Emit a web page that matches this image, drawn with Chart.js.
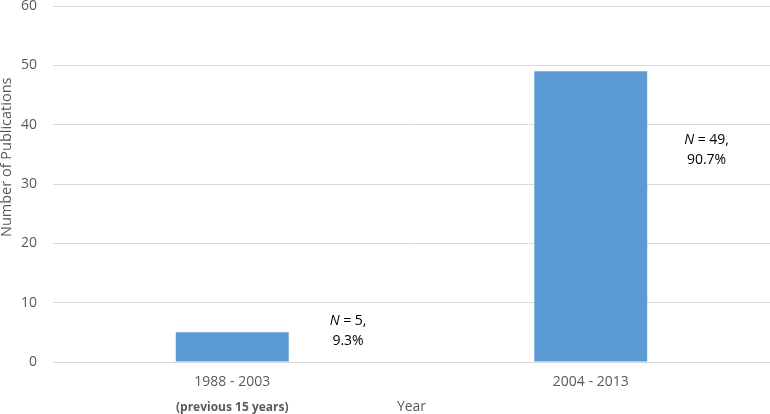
<!DOCTYPE html>
<html>
<head>
<meta charset="utf-8">
<script src="https://cdn.jsdelivr.net/npm/chart.js@4/dist/chart.umd.min.js"></script>
<style>
  html, body { margin: 0; padding: 0; background: #fff; }
  #wrap { width: 770px; height: 414px; }
</style>
</head>
<body>
<div id="wrap"><canvas id="chart"></canvas></div>
<script>
// data
var categories = ['1988 - 2003', '2004 - 2013'];
var subLabels = ['(previous 15 years)', ''];
var publications = [5, 49];
var countLabels = ['5,', '49,'];
var shareLabels = ['9.3%', '90.7%'];
var noteLevels = [5.2, 35.7];   // y value where each note is centred
var yTicks = [0, 10, 20, 30, 40, 50, 60];
var yTitle = 'Number of Publications';

var grey = '#595959';
var fontName = "'Open Sans', 'Liberation Sans', sans-serif";

// bold second line under the category names, the y title, and the N = .. notes
var extraText = {
  id: 'extraText',
  afterDraw: function(chart) {
    var ctx = chart.ctx;
    var xs = chart.scales.x, ys = chart.scales.y;
    ctx.save();
    ctx.textBaseline = 'middle';
    ctx.textAlign = 'center';

    ctx.fillStyle = grey;
    ctx.font = 'bold 12px ' + fontName;
    for (var i = 0; i < subLabels.length; i++) {
      if (!subLabels[i]) continue;
      ctx.fillText(subLabels[i], xs.getPixelForValue(i), xs.top + 46);
    }

    // y title sits a bit above the middle of the axis in the original
    ctx.save();
    ctx.translate(11, ys.getPixelForValue(34.5));
    ctx.rotate(-Math.PI / 2);
    ctx.textBaseline = 'alphabetic';
    ctx.font = '14.5px ' + fontName;
    ctx.fillText(yTitle, 0, 0);
    ctx.restore();

    ctx.fillStyle = '#000';
    for (var j = 0; j < countLabels.length; j++) {
      var cx = xs.getPixelForValue(j + 0.323);
      var cy = ys.getPixelForValue(noteLevels[j]);
      ctx.font = 'italic 14px ' + fontName;
      var wN = ctx.measureText('N').width;
      ctx.font = '14px ' + fontName;
      var rest = ' = ' + countLabels[j];
      var wR = ctx.measureText(rest).width;
      var x0 = cx - (wN + wR) / 2;
      ctx.textAlign = 'left';
      ctx.font = 'italic 14px ' + fontName;
      ctx.fillText('N', x0, cy - 10);
      ctx.font = '14px ' + fontName;
      ctx.fillText(rest, x0 + wN, cy - 10);
      ctx.textAlign = 'center';
      ctx.fillText(shareLabels[j], cx, cy + 10);
    }
    ctx.restore();
  }
};

var ctx = document.getElementById('chart').getContext('2d');
var myChart = new Chart(ctx, {
  type: 'bar',
  data: {
    labels: categories,
    datasets: [{
      label: yTitle,
      data: publications,
      backgroundColor: '#5B9BD5',
      borderWidth: 0,
      categoryPercentage: 1,
      barPercentage: 0.315
    }]
  },
  options: {
    responsive: true,
    maintainAspectRatio: false,
    animation: false,
    layout: { padding: { top: 6, right: 0, bottom: 0, left: 0 } },
    plugins: {
      legend: { display: false },
      tooltip: { enabled: false }
    },
    scales: {
      x: {
        grid: { display: false, drawTicks: false },
        border: { display: false },
        ticks: { color: grey, font: { family: fontName, size: 14 }, padding: 12 },
        title: {
          display: true, text: 'Year', color: grey,
          font: { family: fontName, size: 14, lineHeight: 1 }, padding: 0
        },
        afterFit: function(scale) { scale.height = 52; }
      },
      y: {
        min: 0, max: 60,
        afterBuildTicks: function(scale) {
          scale.ticks = yTicks.map(function(v) { return { value: v }; });
        },
        // invisible tick marks push the labels left without adding top padding
        grid: { color: '#D9D9D9', lineWidth: 1, drawTicks: true, tickLength: 16, tickColor: 'rgba(0,0,0,0)' },
        border: { display: false },
        ticks: { color: grey, font: { family: fontName, size: 14, lineHeight: 0.85 }, padding: 0 },
        title: { display: false },
        afterFit: function(scale) { scale.width = 53; }
      }
    }
  },
  plugins: [extraText]
});
</script>
</body>
</html>
